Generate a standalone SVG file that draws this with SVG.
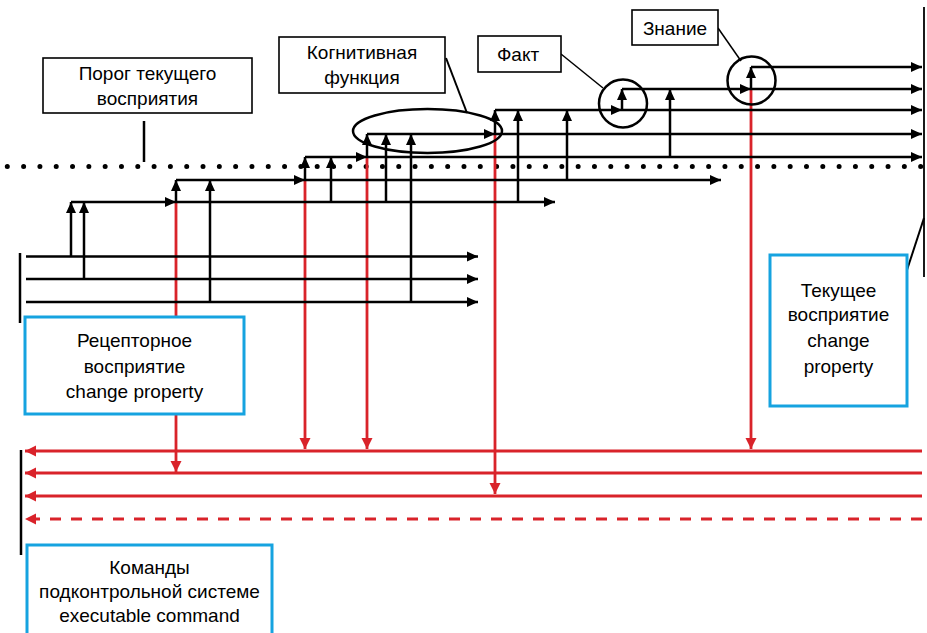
<svg xmlns="http://www.w3.org/2000/svg" width="927" height="633" viewBox="0 0 927 633">
<defs>
<marker id="ab" markerUnits="userSpaceOnUse" markerWidth="12" markerHeight="12" refX="11" refY="6" orient="auto"><path d="M0,1 L11,6 L0,11 Z" fill="#000"/></marker>
<marker id="ar" markerUnits="userSpaceOnUse" markerWidth="12" markerHeight="12" refX="11" refY="6" orient="auto"><path d="M0,0.5 L11,6 L0,11.5 Z" fill="#d9232a"/></marker>
</defs>
<style>
.b{stroke:#000;stroke-width:2.5;fill:none}
.ba{stroke:#000;stroke-width:2.5;fill:none;marker-end:url(#ab)}
.r{stroke:#d9232a;stroke-width:2.8;fill:none}
.ra{stroke:#d9232a;stroke-width:2.8;fill:none;marker-end:url(#ar)}
.bx{fill:#fff;stroke:#000;stroke-width:1.6}
.bl{fill:#fff;stroke:#16a3e0;stroke-width:3}
.t{font-family:"Liberation Sans",Arial,sans-serif;font-size:19px;fill:#000;text-anchor:middle}
.ov{fill:none;stroke:#000;stroke-width:2.5}
</style>
<rect width="927" height="633" fill="#fff"/>
<g id="connectors">
<line x1="7.3" y1="166.5" x2="921" y2="166.5" stroke="#000" stroke-width="5" stroke-linecap="round" stroke-dasharray="0 16.31"/>
<line class="b" x1="20" y1="253" x2="20" y2="323"/>
<line x1="924" y1="7" x2="924" y2="277" stroke="#000" stroke-width="1.8"/>
<line class="b" x1="21" y1="450" x2="21" y2="555"/>
<line class="b" x1="144" y1="121" x2="144" y2="162"/>
<line class="ra" x1="176" y1="202" x2="176" y2="472"/>
<line class="ra" x1="305" y1="180" x2="305" y2="449"/>
<line class="ra" x1="367" y1="157" x2="367" y2="449"/>
<line class="ra" x1="495" y1="134" x2="495" y2="494"/>
<line class="ra" x1="751" y1="89" x2="751" y2="449"/>
<line class="ra" x1="922" y1="451" x2="25" y2="451"/>
<line class="ra" x1="922" y1="473" x2="25" y2="473"/>
<line class="ra" x1="922" y1="496" x2="25" y2="496"/>
<line x1="922" y1="519" x2="36" y2="519" stroke="#d9232a" stroke-width="2.8" stroke-dasharray="11 10"/>
<path d="M25,519 L36,513.5 L36,524.5 Z" fill="#d9232a"/>
<line class="ba" x1="26" y1="256.5" x2="478" y2="256.5"/>
<line class="ba" x1="26" y1="279" x2="478" y2="279"/>
<line class="ba" x1="26" y1="302" x2="478" y2="302"/>
<line class="ba" x1="71" y1="202" x2="176" y2="202"/>
<line class="ba" x1="176" y1="202" x2="555" y2="202"/>
<line class="ba" x1="176" y1="180" x2="305" y2="180"/>
<line class="ba" x1="305" y1="180" x2="721" y2="180"/>
<line class="ba" x1="305" y1="157" x2="367" y2="157"/>
<line class="ba" x1="367" y1="157" x2="922" y2="157"/>
<line class="ba" x1="367" y1="134" x2="495" y2="134"/>
<line class="ba" x1="495" y1="134" x2="922" y2="134"/>
<line class="ba" x1="495" y1="110" x2="622" y2="110"/>
<line class="ba" x1="622" y1="110" x2="922" y2="110"/>
<line class="ba" x1="622" y1="89" x2="751" y2="89"/>
<line class="ba" x1="751" y1="89" x2="922" y2="89"/>
<line class="ba" x1="751" y1="67" x2="922" y2="67"/>
<line class="ba" x1="71" y1="256.5" x2="71" y2="202"/>
<line class="ba" x1="84" y1="279" x2="84" y2="202"/>
<line class="ba" x1="176" y1="202" x2="176" y2="180"/>
<line class="ba" x1="210" y1="302" x2="210" y2="180"/>
<line class="ba" x1="305" y1="180" x2="305" y2="157"/>
<line class="ba" x1="331" y1="202" x2="331" y2="157"/>
<line class="ba" x1="367" y1="157" x2="367" y2="134"/>
<line class="ba" x1="386" y1="202" x2="386" y2="134"/>
<line class="ba" x1="411" y1="302" x2="411" y2="134"/>
<line class="ba" x1="495" y1="134" x2="495" y2="110"/>
<line class="ba" x1="518" y1="202" x2="518" y2="110"/>
<line class="ba" x1="567" y1="180" x2="567" y2="110"/>
<line class="ba" x1="622" y1="110" x2="622" y2="89"/>
<line class="ba" x1="670" y1="157" x2="670" y2="89"/>
<line class="ba" x1="751" y1="89" x2="751" y2="67"/>
<line x1="446" y1="58" x2="467" y2="113" stroke="#000" stroke-width="2"/>
<line x1="561" y1="54" x2="603" y2="88" stroke="#000" stroke-width="1.5"/>
<line x1="718" y1="28" x2="741" y2="61" stroke="#000" stroke-width="1.5"/>
<line x1="907" y1="270" x2="924" y2="218" stroke="#000" stroke-width="2"/>
</g>
<g id="ellipse-cognitive"><ellipse class="ov" cx="427.5" cy="131" rx="74.5" ry="22"/></g>
<g id="circle-fact"><circle class="ov" cx="623" cy="103.5" r="24"/></g>
<g id="circle-knowledge"><circle class="ov" cx="751.5" cy="80.5" r="24"/></g>
<g id="threshold">
<rect class="bx" x="43" y="58" width="209" height="55"/>
<text class="t" x="147.5" y="80">Порог текущего</text>
<text class="t" x="147.5" y="105">восприятия</text>
</g>
<g id="cognitive">
<rect class="bx" x="279" y="37" width="166" height="56"/>
<text class="t" x="362" y="59">Когнитивная</text>
<text class="t" x="362" y="84">функция</text>
</g>
<g id="fact">
<rect class="bx" x="478" y="36" width="83" height="36"/>
<text class="t" x="518" y="60.5">Факт</text>
</g>
<g id="knowledge">
<rect class="bx" x="632" y="10" width="86" height="35"/>
<text class="t" x="675" y="34.5">Знание</text>
</g>
<g id="receptor">
<rect class="bl" x="25" y="317" width="219" height="97"/>
<text class="t" x="134.5" y="346.5">Рецепторное</text>
<text class="t" x="134.5" y="372.5">восприятие</text>
<text class="t" x="134.5" y="397.5">change property</text>
</g>
<g id="current">
<rect class="bl" x="770" y="255" width="137" height="151"/>
<text class="t" x="838.5" y="296.5">Текущее</text>
<text class="t" x="838.5" y="320.5">восприятие</text>
<text class="t" x="838.5" y="346.5">change</text>
<text class="t" x="838.5" y="372.5">property</text>
</g>
<g id="commands">
<rect class="bl" x="27" y="545" width="245" height="100"/>
<text class="t" x="149.5" y="573.5">Команды</text>
<text class="t" x="149.5" y="597.5">подконтрольной системе</text>
<text class="t" x="149.5" y="621.5">executable command</text>
</g>
</svg>
